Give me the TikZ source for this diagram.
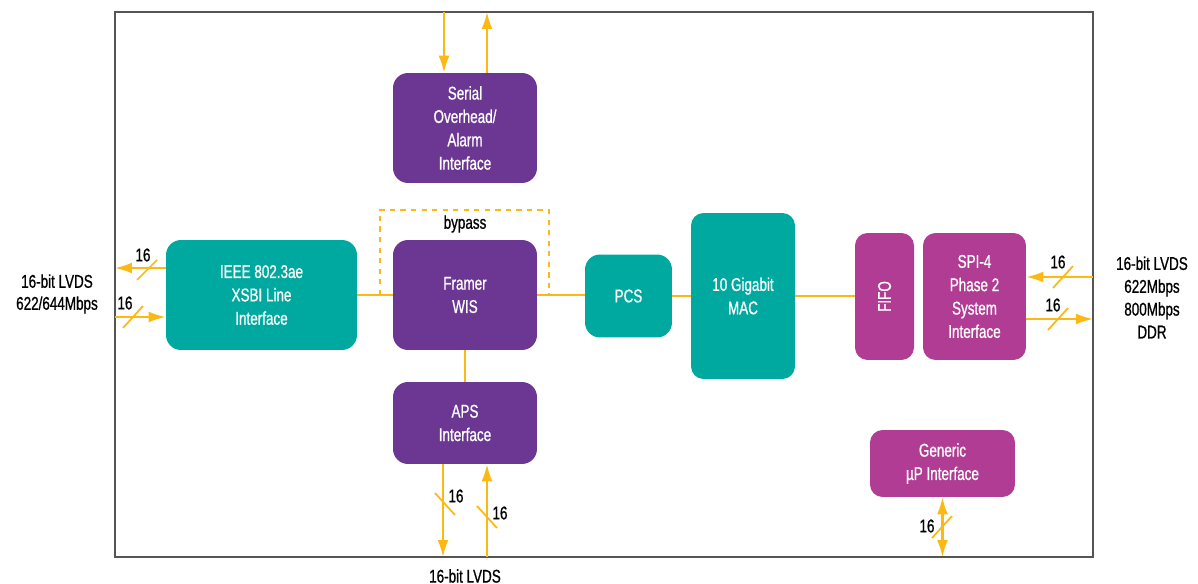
\documentclass[tikz,border=0pt]{standalone}
\usepackage{fontspec}
\setmainfont{Liberation Sans}[FakeStretch=0.73,FakeBold=0.8]
\usetikzlibrary{arrows.meta}
\definecolor{tealblk}{HTML}{00A99F}
\definecolor{purpblk}{HTML}{6C3792}
\definecolor{magblk}{HTML}{B13C94}
\definecolor{busyel}{HTML}{FDB913}
\definecolor{framegray}{HTML}{555555}
\begin{document}
\begin{tikzpicture}[x=0.02cm,y=-0.02cm,
  blk/.style={rounded corners=0.3cm, text=white, align=center,
    font=\fontsize{10.5}{13.3}\selectfont, inner sep=0pt},
  tealbox/.style={blk, fill=tealblk},
  purpbox/.style={blk, fill=purpblk},
  magbox/.style={blk, fill=magblk},
  arr/.style={draw=busyel, line width=1.2pt, -{Latex[length=3.4mm,width=2.2mm]}},
  arrboth/.style={draw=busyel, line width=1.2pt, {Latex[length=3.4mm,width=2.2mm]}-{Latex[length=3.4mm,width=2.2mm]}},
  link/.style={draw=busyel, line width=1.2pt},
  bypassline/.style={draw=busyel, line width=0.8pt, dashed},
  tick/.style={draw=busyel, line width=1pt},
  lbl/.style={font=\fontsize{10.5}{12.5}\selectfont, align=center, inner sep=0pt}]
\useasboundingbox (0,0) rectangle (1198,584);

% frame
\draw[framegray, line width=0.6pt] (115,12) rectangle (1093,557);

% blocks
\node[purpbox, minimum width=2.88cm, minimum height=2.2cm] (serial) at (465,128) {Serial\\Overhead/\\Alarm\\Interface};
\node[tealbox, minimum width=3.82cm, minimum height=2.2cm] (ieee) at (261.5,295) {IEEE 802.3ae\\XSBI Line\\Interface};
\node[purpbox, minimum width=2.88cm, minimum height=2.2cm] (framer) at (465,295) {Framer\\WIS};
\node[tealbox, minimum width=1.74cm, minimum height=1.66cm] (pcs) at (628.5,296) {PCS};
\node[tealbox, minimum width=2.08cm, minimum height=3.32cm, rounded corners=0.25cm] (mac) at (743,296) {10 Gigabit\\MAC};
\node[magbox, minimum width=1.18cm, minimum height=2.54cm, rounded corners=0.25cm] (fifo) at (884.5,296.5) {};
\node[text=white, rotate=90, font=\fontsize{10.5}{13.3}\selectfont] (fifotxt) at (fifo) {FIFO};
\node[magbox, minimum width=2.06cm, minimum height=2.54cm, rounded corners=0.25cm] (spi) at (974.5,296.5) {SPI-4\\Phase 2\\System\\Interface};
\node[purpbox, minimum width=2.88cm, minimum height=1.64cm] (aps) at (465,423) {APS\\Interface};
\node[magbox, minimum width=2.9cm, minimum height=1.34cm, rounded corners=0.25cm] (gen) at (942.5,463.5) {Generic\\µP Interface};

% frame ends
\coordinate (topA) at (444,12);
\coordinate (topB) at (487,12);
\coordinate (leftA) at (115,268);
\coordinate (leftB) at (115,317);
\coordinate (rightA) at (1093,277);
\coordinate (rightB) at (1093,319);
\coordinate (botA) at (443,557);
\coordinate (botB) at (487,557);

% links
\draw[link] (ieee.east) -- (framer.west);
\draw[link] (framer.east) -- (pcs.west |- framer.east);
\draw[link] (pcs.east |- mac.west) -- (mac.west);
\draw[link] (mac.east) -- (fifo.west |- mac.east);
\draw[link] (framer.south) -- (aps.north);
\draw[bypassline] (380,295) |- (549,210) -- (549,295);
\node[lbl] (bypass) at (465,224) {bypass};

% buses
\draw[arr] (topA) -- (serial.north -| topA);
\draw[arr] (serial.north -| topB) -- (topB);
\draw[arr] (ieee.west |- leftA) -- (leftA);
\draw[arr] (leftB) -- (ieee.west |- leftB);
\draw[arr] (rightA) -- (spi.east |- rightA);
\draw[arr] (spi.east |- rightB) -- (rightB);
\draw[arr] (aps.south -| botA) -- (botA);
\draw[arr] (botB) -- (aps.south -| botB);
\draw[arrboth] (gen.south) -- (gen.south |- botA);

% bus widths
\draw[tick] (137,280) -- (157,260);
\draw[tick] (123,328) -- (143,306);
\draw[tick] (1053,288) -- (1073,266);
\draw[tick] (1048,330) -- (1068,308);
\draw[tick] (435,493) -- (455,515);
\draw[tick] (477,506) -- (497,528);
\draw[tick] (932,538) -- (952,516);
\node[lbl] (wA) at (143,255) {16};
\node[lbl] (wB) at (125,303) {16};
\node[lbl] (wC) at (1058,262) {16};
\node[lbl] (wD) at (1053,305) {16};
\node[lbl] (wE) at (456,496) {16};
\node[lbl] (wF) at (500,513) {16};
\node[lbl] (wG) at (927,526) {16};

% outside labels
\node[lbl, font=\fontsize{10.5}{22\dimexpr0.02cm\relax}\selectfont] (lvdsL) at (57,294) {16-bit LVDS\\622/644Mbps};
\node[lbl, font=\fontsize{10.5}{13}\selectfont] (lvdsR) at (1152,297.5) {16-bit LVDS\\622Mbps\\800Mbps\\DDR};
\node[lbl] (lvdsB) at (465,576) {16-bit LVDS};
\end{tikzpicture}
\end{document}
